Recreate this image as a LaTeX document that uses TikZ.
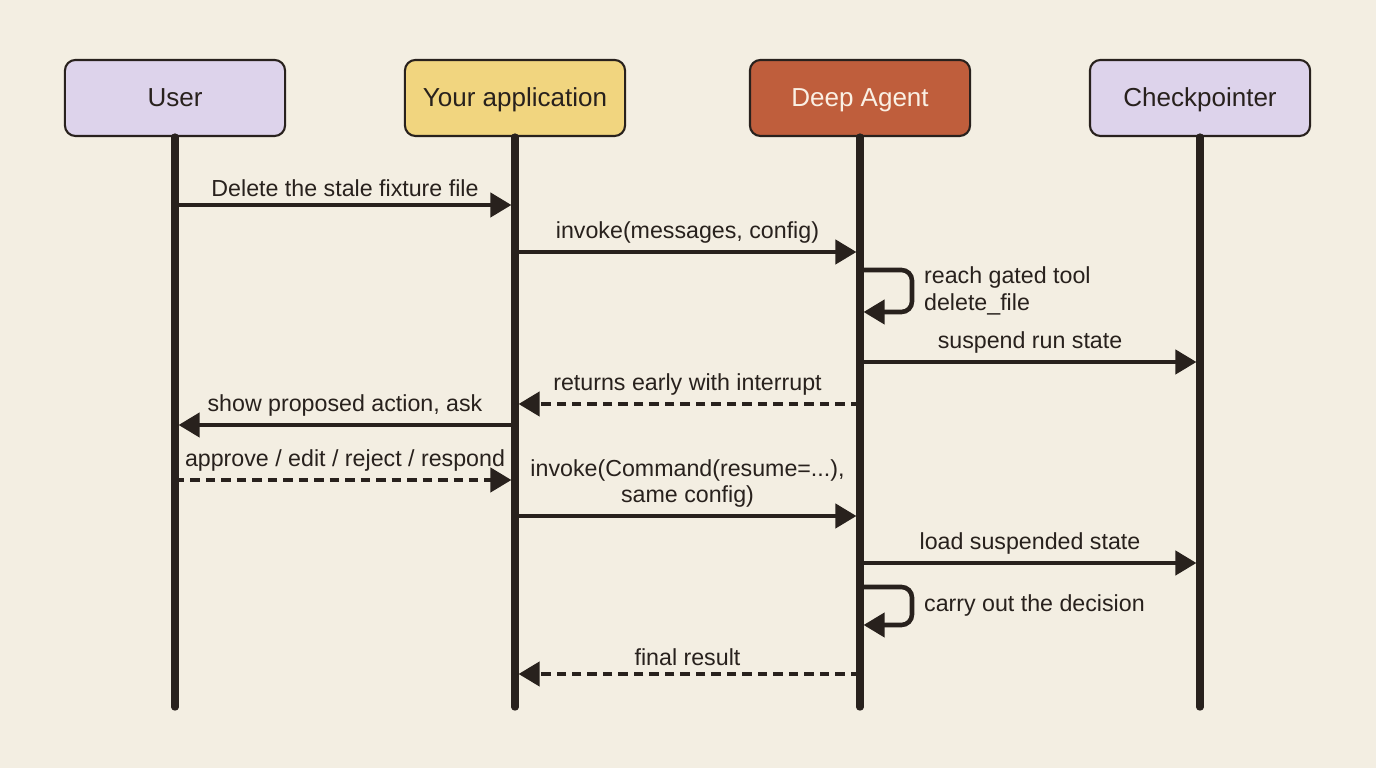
\documentclass[tikz,border=0pt]{standalone}
\usepackage{fontspec}
\setmainfont{Liberation Sans}
\usepackage{xcolor}
\usepackage{tikz}
\usetikzlibrary{
  arrows.meta,
  positioning
}
\definecolor{seqbg}{RGB}{243,238,226}
\definecolor{seqink}{RGB}{40,33,29}
\definecolor{seqlav}{RGB}{221,211,235}
\definecolor{seqyel}{RGB}{241,213,127}
\definecolor{seqrust}{RGB}{191,94,60}
\definecolor{seqcream}{RGB}{250,240,228}

\begin{document}
\begin{tikzpicture}[
  x=0.01cm, y=-0.01cm,
  hdr/.style={draw=seqink, line width=0.6pt, rounded corners=3pt, minimum width=2.2cm, minimum height=0.76cm, text height=0.72em, text depth=0.22em, text=seqink, font=\fontsize{7.4}{8.5}\selectfont},
  life/.style={seqink, line width=2.1pt, line cap=round},
  msg/.style={-{Triangle[length=6pt,width=6.8pt]}, seqink, line width=1.3pt, shorten >=1pt},
  rep/.style={msg, dash pattern=on 2.7pt off 1.7pt},
  txt/.style={text=seqink, inner sep=0.8pt, align=center, font=\fontsize{6.6}{7.5}\selectfont}
]
  % canvas
  \path[use as bounding box, fill=seqbg] (0,0) rectangle (1376,768);

  % participants
  \node[hdr, fill=seqlav] (user) at (175,98) {User};
  \node[hdr, fill=seqyel] (app) at (515,98) {Your application};
  \node[hdr, fill=seqrust, text=seqcream] (agent) at (860,98) {Deep Agent};
  \node[hdr, fill=seqlav] (ckpt) at (1200,98) {Checkpointer};

  % lifelines, with a point for every message
  \foreach \n/\x in {user/175, app/515, agent/860, ckpt/1200} {
    \coordinate (\n end) at (\x,707);
    \draw[life] (\n.south) -- (\n end);
    \foreach \y in {205,252,270,312,362,404,425,480,516,563,587,625,674} {
      \coordinate (\n\y) at (\x,\y);
    }
  }

  % first run
  \draw[msg] (user205) -- node[txt, above=1pt] {Delete the stale fixture file} (app205);
  \draw[msg] (app252) -- node[txt, above=1pt] {invoke(messages, config)} (agent252);
  \draw[msg, rounded corners=3pt] (agent270) -- ++(52,0) |- node[txt, pos=0.25, right=2pt, align=left] {reach gated tool\\delete\_file} (agent312);
  \draw[msg] (agent362) -- node[txt, above=1pt] {suspend run state} (ckpt362);
  \draw[rep] (agent404) -- node[txt, above=1pt] {returns early with interrupt} (app404);

  % human in the loop
  \draw[msg] (app425) -- node[txt, above=1pt] {show proposed action, ask} (user425);
  \draw[rep] (user480) -- node[txt, above=1pt] {approve / edit / reject / respond} (app480);

  % resumed run
  \draw[msg] (app516) -- node[txt, above=1pt] {invoke(Command(resume=...),\\same config)} (agent516);
  \draw[msg] (agent563) -- node[txt, above=1pt] {load suspended state} (ckpt563);
  \draw[msg, rounded corners=3pt] (agent587) -- ++(52,0) |- node[txt, pos=0.25, right=2pt, align=left] {carry out the decision} (agent625);
  \draw[rep] (agent674) -- node[txt, above=1pt] {final result} (app674);
\end{tikzpicture}
\end{document}
